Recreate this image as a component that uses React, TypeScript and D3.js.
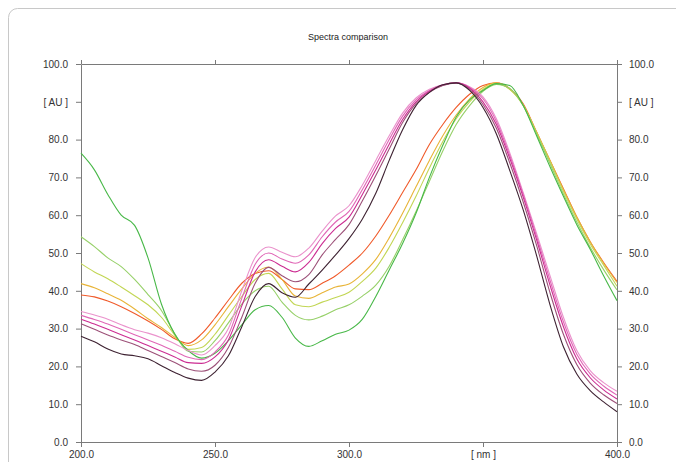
import React, { useEffect, useRef } from 'react';
import * as d3 from 'd3';

// wavelength grid in nm
const wavelengths = [
  200, 205, 210, 215, 220, 225, 230, 235, 240, 245, 250, 255, 260, 265, 270, 275, 280, 285, 290, 295,
  300, 305, 310, 315, 320, 325, 330, 335, 340, 345, 350, 355, 360, 365, 370, 375, 380, 385, 390, 395, 400,
];

// first group (peak near 338 nm)
const darkSeries = [
  28.0, 26.5, 24.6, 23.3, 22.8, 22.0, 20.2, 18.4, 16.9, 16.3, 18.5, 22.8, 30.5, 38.5, 41.9, 39.5, 38.3, 41.8, 45.5, 49.5,
  53.8, 59.0, 65.8, 74.5, 82.6, 89.0, 92.5, 94.5, 95.0, 93.0, 88.5, 81.5, 71.8, 61.4, 49.3, 36.3, 25.2, 18.0, 13.6, 10.6, 8.0,
];
const mauveSeries = [
  31.3, 29.8, 28.3, 27.0, 25.8, 24.2, 22.6, 21.0, 19.3, 18.7, 20.3, 25.0, 33.0, 42.0, 46.2, 44.0, 42.4, 44.3, 49.5, 53.6,
  57.5, 63.8, 70.5, 77.5, 84.5, 89.5, 92.5, 94.3, 95.0, 93.3, 89.3, 83.0, 73.8, 63.5, 52.0, 39.5, 28.5, 20.5, 15.6, 12.5, 10.2,
];
const magentaSeries = [
  32.5, 31.2, 29.8, 28.4, 27.0, 25.5, 24.0, 22.5, 21.0, 20.8, 22.5, 27.0, 36.0, 45.0, 48.2, 46.5, 45.0, 47.5, 52.5, 56.5,
  59.5, 65.5, 72.0, 78.8, 85.3, 90.0, 92.8, 94.4, 95.0, 93.6, 90.0, 84.0, 75.0, 64.8, 53.5, 41.5, 30.5, 22.0, 17.0, 13.8, 11.4,
];
const pinkSeries = [
  33.5, 32.4, 31.2, 29.8, 28.4, 27.0, 25.6, 24.0, 22.4, 21.8, 23.8, 28.3, 38.0, 47.0, 50.0, 48.4, 47.3, 49.5, 54.3, 58.2,
  61.0, 66.8, 73.3, 80.0, 86.2, 90.5, 93.0, 94.5, 95.0, 93.8, 90.8, 84.8, 75.8, 65.5, 54.4, 42.8, 31.8, 23.2, 18.0, 14.8, 12.4,
];
const lightPinkSeries = [
  34.5, 33.6, 32.5, 31.0, 29.7, 28.8, 27.6, 26.0, 24.2, 23.0, 25.5, 30.0, 40.0, 48.8, 51.6, 50.2, 49.0, 51.3, 55.8, 59.8,
  62.5, 68.0, 74.5, 81.0, 87.0, 91.0, 93.3, 94.5, 95.0, 94.0, 91.3, 85.5, 76.5, 66.0, 55.2, 44.0, 33.0, 24.2, 18.9, 15.7, 13.4,
];

// second group (peak near 354 nm)
const orangeSeries = [
  38.9, 38.4, 37.3, 35.8, 34.0, 32.0, 29.8, 27.3, 26.1, 28.6, 32.8, 37.5, 42.0, 44.6, 45.3, 43.0, 40.5, 40.3, 42.0, 44.0,
  46.8, 50.0, 54.5, 60.0, 66.0, 72.0, 78.7, 84.0, 88.5, 92.0, 94.3, 95.0, 93.5, 89.5, 82.0, 74.5, 67.0, 59.5, 53.0, 47.5, 42.5,
];
const goldSeries = [
  41.9, 40.8, 39.2, 37.5, 35.2, 32.6, 30.3, 27.7, 25.5, 27.0, 31.0, 35.8, 40.5, 44.6, 46.3, 43.0, 38.6, 38.0, 39.5, 41.0,
  41.8, 44.5, 48.3, 54.0, 60.5, 67.5, 74.5, 81.0, 86.5, 90.8, 93.8, 95.0, 93.3, 89.2, 82.0, 74.5, 66.8, 59.5, 53.0, 47.3, 42.2,
];
const yellowGreenSeries = [
  47.2, 45.0, 43.2, 41.0, 38.7, 36.3, 33.0, 28.3, 24.5, 25.0, 28.5, 33.5, 38.5, 43.0, 44.6, 40.5, 36.3, 35.8, 37.0, 38.2,
  39.6, 42.5, 46.0, 51.5, 58.0, 65.0, 72.5, 79.5, 85.5, 90.0, 93.3, 94.8, 93.3, 89.0, 81.8, 74.2, 66.3, 59.0, 52.4, 46.8, 41.2,
];
const lightGreenSeries = [
  54.3, 51.7, 48.7, 46.4, 43.0, 39.0, 34.8, 28.6, 24.0, 23.8, 26.8, 31.5, 36.5, 40.0, 41.2, 37.0, 33.5, 32.3, 33.3, 35.0,
  36.3, 38.6, 41.5, 46.5, 53.5, 61.0, 69.0, 77.0, 84.0, 89.0, 92.8, 94.6, 93.5, 89.0, 81.5, 73.6, 65.6, 58.2, 51.5, 45.6, 40.2,
];
const greenSeries = [
  76.4, 72.0, 65.5, 60.0, 57.3, 48.7, 36.5, 28.5, 24.2, 22.2, 23.5, 26.8, 31.0, 35.0, 36.1, 33.0, 27.5, 25.3, 26.8, 28.5,
  29.6, 32.5, 38.5, 45.5, 52.5, 60.5, 70.0, 78.5, 86.0, 90.5, 93.0, 94.8, 94.3, 89.0, 81.0, 72.8, 65.0, 57.5, 51.0, 44.0, 37.4,
];

const seriesList = [
  { name: 'orange', values: orangeSeries, color: '#f05a2a' },
  { name: 'gold', values: goldSeries, color: '#e8b438' },
  { name: 'yellowGreen', values: yellowGreenSeries, color: '#c2d654' },
  { name: 'lightGreen', values: lightGreenSeries, color: '#96d068' },
  { name: 'green', values: greenSeries, color: '#48b848' },
  { name: 'lightPink', values: lightPinkSeries, color: '#ea92cc' },
  { name: 'pink', values: pinkSeries, color: '#e066b6' },
  { name: 'magenta', values: magentaSeries, color: '#cc2c92' },
  { name: 'mauve', values: mauveSeries, color: '#9c5078' },
  { name: 'dark', values: darkSeries, color: '#3e2232' },
];

const yTicks = [0, 10, 20, 30, 40, 50, 60, 70, 80, 90, 100];
const yTickLabels = ['0.0', '10.0', '20.0', '30.0', '40.0', '50.0', '60.0', '70.0', '80.0', '[ AU ]', '100.0'];
const xTicks = [200, 250, 300, 350, 400];
const xTickLabels = ['200.0', '250.0', '300.0', '[ nm ]', '400.0'];

const SpectraChart: React.FC = () => {
  const svgRef = useRef<SVGSVGElement>(null);

  useEffect(() => {
    if (!svgRef.current) return;

    const svg = d3.select(svgRef.current);
    svg.selectAll('*').remove();

    const width = 676;
    const height = 462;
    const margin = { top: 64, right: 59, bottom: 20, left: 81 };
    const font = '"Liberation Sans", Arial, sans-serif';
    const axisColor = '#7a7a7a';
    const textColor = '#333';

    // outer frame
    svg
      .append('rect')
      .attr('x', 8.5)
      .attr('y', 8.5)
      .attr('width', 700)
      .attr('height', 500)
      .attr('rx', 9)
      .attr('fill', 'none')
      .attr('stroke', '#c8c8c8');

    svg
      .append('text')
      .attr('x', 348)
      .attr('y', 40)
      .attr('text-anchor', 'middle')
      .attr('font-family', font)
      .attr('font-size', 9)
      .attr('fill', '#222')
      .text('Spectra comparison');

    const x = d3
      .scaleLinear()
      .domain([200, 400])
      .range([margin.left, width - margin.right]);

    const y = d3
      .scaleLinear()
      .domain([0, 100])
      .range([height - margin.bottom, margin.top]);

    const styleAxis = (g: d3.Selection<SVGGElement, unknown, null, undefined>) => {
      g.selectAll('path').attr('stroke', axisColor);
      g.selectAll('line').attr('stroke', axisColor);
      g.selectAll('text')
        .attr('font-family', font)
        .attr('font-size', 10)
        .attr('fill', textColor);
    };

    svg
      .append('g')
      .attr('transform', `translate(0,${y(0)})`)
      .call(
        d3
          .axisBottom(x)
          .tickValues(xTicks)
          .tickFormat((_, i) => xTickLabels[i])
          .tickSize(5)
          .tickSizeOuter(0)
          .tickPadding(4)
      )
      .call(styleAxis);

    svg
      .append('g')
      .attr('transform', `translate(0,${y(100)})`)
      .call(d3.axisTop(x).tickValues(xTicks).tickFormat(() => '').tickSize(4).tickSizeOuter(0))
      .call(styleAxis);

    svg
      .append('g')
      .attr('transform', `translate(${x(200)},0)`)
      .call(
        d3
          .axisLeft(y)
          .tickValues(yTicks)
          .tickFormat((_, i) => yTickLabels[i])
          .tickSize(5)
          .tickSizeOuter(0)
          .tickPadding(8)
      )
      .call(styleAxis);

    svg
      .append('g')
      .attr('transform', `translate(${x(400)},0)`)
      .call(
        d3
          .axisRight(y)
          .tickValues(yTicks)
          .tickFormat((_, i) => yTickLabels[i])
          .tickSize(5)
          .tickSizeOuter(0)
          .tickPadding(7)
      )
      .call(styleAxis);

    const line = d3
      .line<number>()
      .x((_, i) => x(wavelengths[i]))
      .y((d) => y(d))
      .curve(d3.curveMonotoneX);

    svg
      .selectAll('path.spectrum')
      .data(seriesList)
      .enter()
      .append('path')
      .attr('class', 'spectrum')
      .attr('d', (d) => line(d.values))
      .attr('fill', 'none')
      .attr('stroke', (d) => d.color)
      .attr('stroke-width', 1.1);
  }, []);

  return (
    <svg
      ref={svgRef}
      width="676"
      height="462"
      style={{ position: 'absolute', left: 0, top: 0, background: '#fff' }}
    ></svg>
  );
};

export default function App() {
  return <SpectraChart />;
}
